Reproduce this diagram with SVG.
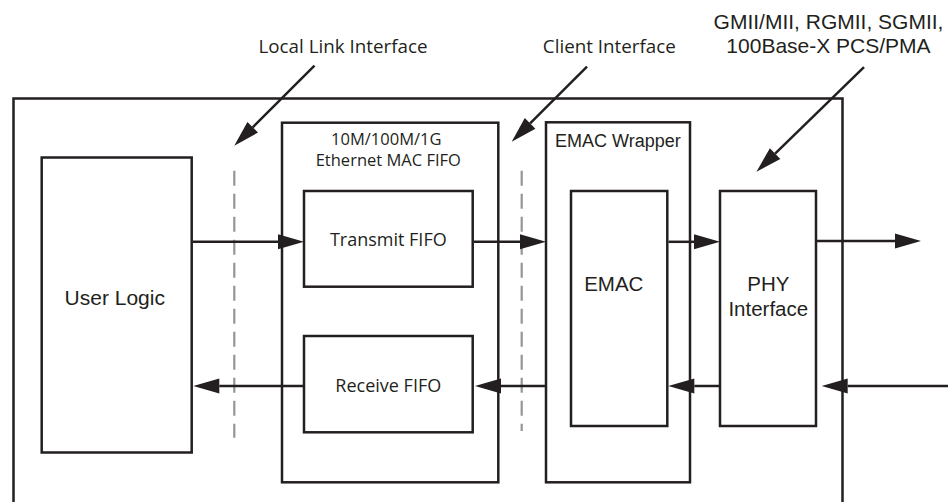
<svg xmlns="http://www.w3.org/2000/svg" width="948" height="502" viewBox="0 0 948 502">
  <style>
    .box { fill: none; stroke: #231f20; stroke-width: 2.5; }
    .wire { fill: none; stroke: #231f20; stroke-width: 2.5; marker-end: url(#ah); }
    .dash { fill: none; stroke: #939598; stroke-width: 2.2; stroke-dasharray: 15 8; }
    .hv { font-family: "Liberation Sans", Arial, sans-serif; fill: #231f20; }
    .my { font-family: "Open Sans", "Liberation Sans", sans-serif; fill: #231f20; }
  </style>
  <defs>
    <marker id="ah" markerUnits="userSpaceOnUse" markerWidth="27" markerHeight="16" refX="0" refY="7.5" orient="auto" overflow="visible">
      <path d="M0,0 L26,7.5 L0,15 Z" fill="#231f20"/>
    </marker>
  </defs>
  <rect width="948" height="502" fill="#ffffff"/>

  <g id="outer">
    <path class="box" d="M13.5,520 V98.5 H842.5 V520"/>
  </g>

  <g id="user-logic">
    <rect class="box" x="41.7" y="157.5" width="150" height="295"/>
    <text class="hv" x="114.8" y="305" font-size="21" text-anchor="middle">User Logic</text>
  </g>

  <g id="mac-fifo">
    <rect class="box" x="282" y="122.7" width="216.3" height="359.6"/>
    <text class="my" x="386.3" y="145" font-size="16.5" text-anchor="middle">10M/100M/1G</text>
    <text class="my" x="388.3" y="166" font-size="16.5" text-anchor="middle">Ethernet MAC FIFO</text>
  </g>

  <g id="transmit-fifo">
    <rect class="box" x="304" y="191" width="168.7" height="95.7"/>
    <text class="my" x="388.3" y="245.7" font-size="18" text-anchor="middle">Transmit FIFO</text>
  </g>

  <g id="receive-fifo">
    <rect class="box" x="304" y="336" width="168.7" height="96.3"/>
    <text class="my" x="388.3" y="391.7" font-size="18" text-anchor="middle">Receive FIFO</text>
  </g>

  <g id="emac-wrapper">
    <rect class="box" x="546" y="122.3" width="144" height="360"/>
    <text class="hv" x="555" y="146.7" font-size="18">EMAC Wrapper</text>
  </g>

  <g id="emac">
    <rect class="box" x="571" y="191" width="96.3" height="235"/>
    <text class="hv" x="613.8" y="290.7" font-size="20.5" text-anchor="middle">EMAC</text>
  </g>

  <g id="phy">
    <rect class="box" x="720" y="191" width="96" height="235"/>
    <text class="hv" x="768.3" y="290.7" font-size="20.5" text-anchor="middle">PHY</text>
    <text class="hv" x="768.3" y="315.7" font-size="20.5" text-anchor="middle">Interface</text>
  </g>

  <g id="interfaces">
    <line class="dash" x1="234.3" y1="170.7" x2="234.3" y2="437.7"/>
    <line class="dash" x1="521.7" y1="170.7" x2="521.7" y2="431"/>
  </g>

  <g id="labels">
    <text class="my" x="343" y="53.3" font-size="18.8" text-anchor="middle">Local Link Interface</text>
    <text class="my" x="609.3" y="53.3" font-size="18.8" text-anchor="middle">Client Interface</text>
    <text class="hv" x="828.5" y="29.3" font-size="21" text-anchor="middle">GMII/MII, RGMII, SGMII,</text>
    <text class="hv" x="828.5" y="53.3" font-size="21" text-anchor="middle">100Base-X PCS/PMA</text>
  </g>

  <g id="connectors">
    <line class="wire" x1="193" y1="241.8" x2="278" y2="241.8"/>
    <line class="wire" x1="474" y1="241.8" x2="520" y2="241.8"/>
    <line class="wire" x1="668.5" y1="241.8" x2="694" y2="241.8"/>
    <line class="wire" x1="817" y1="241" x2="895" y2="241"/>
    <line class="wire" x1="950" y1="386" x2="847.7" y2="386"/>
    <line class="wire" x1="719" y1="386" x2="694.3" y2="386"/>
    <line class="wire" x1="545" y1="386" x2="501" y2="386"/>
    <line class="wire" x1="303" y1="386" x2="219.3" y2="386"/>
    <line class="wire" x1="314.5" y1="65.7" x2="252.7" y2="127.3"/>
    <line class="wire" x1="587" y1="66.7" x2="530.1" y2="123.4"/>
    <line class="wire" x1="864" y1="67.2" x2="775.1" y2="153.6"/>
  </g>
</svg>
